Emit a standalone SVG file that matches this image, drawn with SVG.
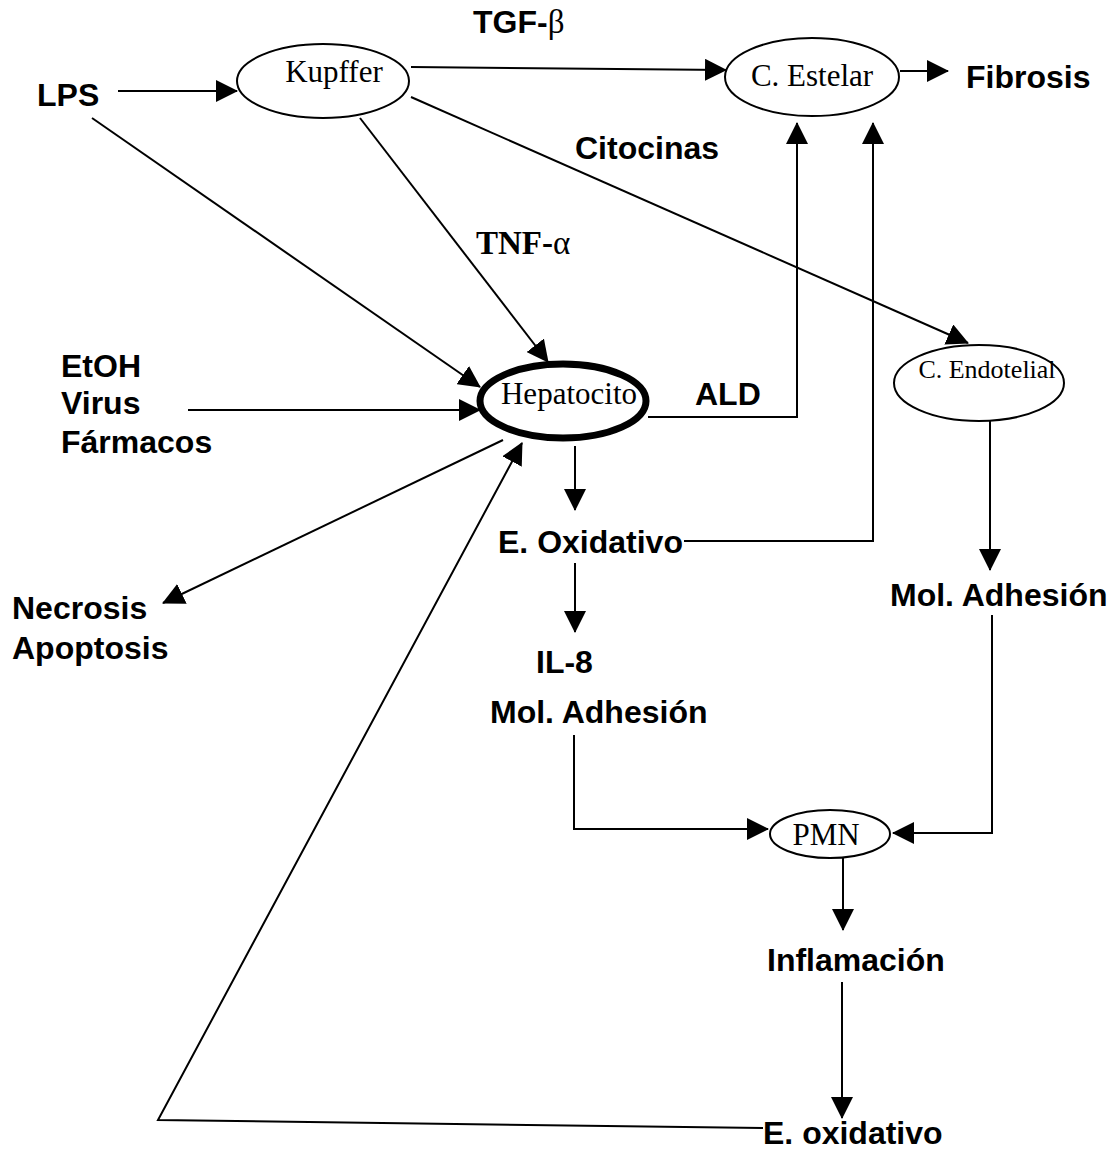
<svg xmlns="http://www.w3.org/2000/svg" width="1116" height="1150" viewBox="0 0 1116 1150">
<defs>
<marker id="ah" markerUnits="userSpaceOnUse" markerWidth="22" markerHeight="22" refX="21" refY="11" orient="auto">
<path d="M0,0 L22,11 L0,22 z" fill="#000"/>
</marker>
<style>
.lbl{font-family:"Liberation Sans",Arial,sans-serif;font-weight:bold;font-size:32px;fill:#000}
.tm{font-family:"Liberation Serif","Times New Roman",serif;font-size:31px;fill:#000}
.nd{fill:#fff;stroke:#000;stroke-width:2}
.cn{fill:none;stroke:#000;stroke-width:2;marker-end:url(#ah)}
</style>
</defs>
<rect width="1116" height="1150" fill="#fff"/>
<g id="connectors">
<path class="cn" d="M118 91 H237"/>
<path class="cn" d="M92 118 L480 387"/>
<path class="cn" d="M360 118 L548 362"/>
<path class="cn" d="M411 67 L726 70"/>
<path class="cn" d="M411 97 L968 343"/>
<path class="cn" d="M900 71 H948"/>
<path class="cn" d="M188 410 H480"/>
<path class="cn" d="M648 417 H797 V123"/>
<path class="cn" d="M575 446 V510"/>
<path class="cn" d="M684 541 H873 V123"/>
<path class="cn" d="M503 440 L163 603"/>
<path class="cn" d="M763 1128 L158 1120 L522 443"/>
<path class="cn" d="M575 563 V632"/>
<path class="cn" d="M990 420 V570"/>
<path class="cn" d="M574 735 V829 H768"/>
<path class="cn" d="M992 615 V833 H893"/>
<path class="cn" d="M843 858 V930"/>
<path class="cn" d="M842 982 V1118"/>
</g>
<g id="kupffer"><ellipse class="nd" cx="323" cy="81" rx="86" ry="37"/><text class="tm" x="334" y="82" text-anchor="middle">Kupffer</text></g>
<g id="estelar"><ellipse class="nd" cx="812" cy="77" rx="87" ry="39"/><text class="tm" x="812" y="86" text-anchor="middle">C. Estelar</text></g>
<g id="hepatocito"><ellipse cx="563" cy="401" rx="83" ry="37" fill="#fff" stroke="#000" stroke-width="7"/><text class="tm" x="569" y="404" text-anchor="middle">Hepatocito</text></g>
<g id="endotelial"><ellipse class="nd" cx="979" cy="383" rx="85" ry="38"/><text class="tm" x="987" y="378" text-anchor="middle" style="font-size:26px">C. Endotelial</text></g>
<g id="pmn"><ellipse class="nd" cx="830" cy="834" rx="60" ry="24"/><text class="tm" x="826" y="845" text-anchor="middle">PMN</text></g>
<g id="tgf"><text class="lbl" x="473" y="33">TGF-<tspan style="font-family:'Liberation Serif',serif;font-weight:normal;font-size:33px">β</tspan></text></g>
<g id="lps"><text class="lbl" x="37" y="106">LPS</text></g>
<g id="fibrosis"><text class="lbl" x="966" y="88">Fibrosis</text></g>
<g id="citocinas"><text class="lbl" x="575" y="159">Citocinas</text></g>
<g id="tnf"><text class="tm" x="476" y="254" style="font-weight:bold;font-size:33px">TNF-<tspan style="font-weight:normal">α</tspan></text></g>
<g id="etoh"><text class="lbl" x="61" y="377">EtOH</text><text class="lbl" x="61" y="414">Virus</text><text class="lbl" x="61" y="453">Fármacos</text></g>
<g id="ald"><text class="lbl" x="695" y="405">ALD</text></g>
<g id="eoxidativo1"><text class="lbl" x="498" y="553">E. Oxidativo</text></g>
<g id="moladh2"><text class="lbl" x="890" y="606">Mol. Adhesión</text></g>
<g id="necrosis"><text class="lbl" x="12" y="619">Necrosis</text><text class="lbl" x="12" y="659">Apoptosis</text></g>
<g id="il8"><text class="lbl" x="536" y="673">IL-8</text><text class="lbl" x="490" y="723">Mol. Adhesión</text></g>
<g id="inflamacion"><text class="lbl" x="767" y="971">Inflamación</text></g>
<g id="eoxidativo2"><text class="lbl" x="763" y="1144">E. oxidativo</text></g>
</svg>
